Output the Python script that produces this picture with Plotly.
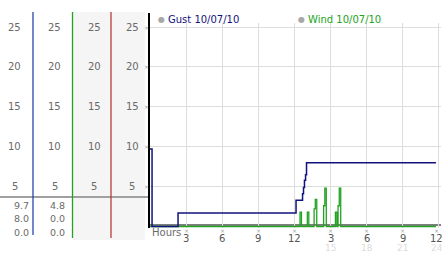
import plotly.graph_objects as go

W, H = 442, 253

# ---------------- data ----------------
gust_hours = [0, 0.17, 2.33, 12.13, 12.67, 12.75, 12.83, 12.92, 13.0, 23.75]
gust_vals = [9.7, 0, 1.7, 3.3, 4.1, 4.9, 5.8, 6.5, 8.0, 8.0]

wind_hours = [0, 12.46, 12.58, 13.07, 13.19, 13.63, 13.73, 13.85, 14.42, 14.52, 14.64,
              15.40, 15.52, 15.62, 15.72, 15.84, 23.75]
wind_vals = [0, 1.8, 0, 1.8, 0, 2.2, 3.4, 0, 2.6, 4.8, 0, 1.8, 0, 2.6, 4.8, 0, 0]

y_ticks = [5, 10, 15, 20, 25]
x_ticks = [3, 6, 9, 12, 15, 18, 21, 24]
x_labels_top = ["3", "6", "9", "12", "3", "6", "9", "12"]
x_labels_bottom = ["", "", "", "", "15", "18", "21", "24"]

gust_stats = ["9.7", "8.0", "0.0"]   # max, last, min
wind_stats = ["4.8", "0.0", "0.0"]

gust_name = "Gust 10/07/10"
wind_name = "Wind 10/07/10"

# ---------------- styles ----------------
NAVY = "#12127e"
GREEN = "#22a322"
BLUE_COL = "#2848a8"
RED_COL = "#b83a3a"
LABEL = "#6a6a6a"
FONT = "DejaVu Sans"


def px(x):
    return x / W


def py(y):
    return 1 - y / H


# main plot area in pixels
X0, X1 = 149, 441
Y0, Y1 = 23, 228
PPH = 12.04          # pixels per hour
ZERO_X = 150
PPU = 7.98           # pixels per unit
ZERO_Y = 226.5

x_range = [(X0 - ZERO_X) / PPH, (X1 - ZERO_X) / PPH]
y_range = [(ZERO_Y - Y1) / PPU, (ZERO_Y - Y0) / PPU]

fig = go.Figure()

fig.add_trace(go.Scatter(x=wind_hours, y=wind_vals, mode="lines",
                         line=dict(color=GREEN, width=1.3, shape="hv"),
                         hoverinfo="skip", showlegend=False))
fig.add_trace(go.Scatter(x=gust_hours, y=gust_vals, mode="lines",
                         line=dict(color=NAVY, width=1.5, shape="hv"),
                         hoverinfo="skip", showlegend=False))

shapes = []
# left panel grey backgrounds
shapes.append(dict(type="rect", xref="paper", yref="paper", x0=px(73), x1=px(145), y0=py(240), y1=py(12),
                   fillcolor="#f5f5f5", line=dict(width=0), layer="below"))
# grey horizontal separator
shapes.append(dict(type="line", xref="paper", yref="paper", x0=px(0), x1=px(149), y0=py(197), y1=py(197),
                   line=dict(color="#a0a0a0", width=2)))
# column lines
for xc, col, yb in [(33, BLUE_COL, 235), (72.5, GREEN, 238), (111, RED_COL, 238)]:
    shapes.append(dict(type="line", xref="paper", yref="paper", x0=px(xc), x1=px(xc), y0=py(12), y1=py(yb),
                       line=dict(color=col, width=1.3)))
# black axes
shapes.append(dict(type="line", xref="paper", yref="paper", x0=px(149), x1=px(149), y0=py(13), y1=py(228),
                   line=dict(color="black", width=2)))
shapes.append(dict(type="line", xref="paper", yref="paper", x0=px(149), x1=px(441), y0=py(225), y1=py(225),
                   line=dict(color="black", width=1.2), layer="below"))

annotations = []
for xc in [14.5, 54.5, 94, 132]:
    for v in y_ticks:
        annotations.append(dict(x=px(xc), y=v, xref="paper", yref="y", text=str(v), showarrow=False,
                                font=dict(family=FONT, size=10, color=LABEL), xanchor="center", yanchor="middle"))
# small tick crosses on the y axis
for v in y_ticks:
    annotations.append(dict(x=px(146), y=v, xref="paper", yref="y", text="×", showarrow=False,
                            font=dict(family=FONT, size=6, color="#a0a0a0"), xanchor="center", yanchor="middle"))
# x tick labels (two rows) and tick crosses
for i, (t, top, bot) in enumerate(zip(x_ticks, x_labels_top, x_labels_bottom)):
    shift = -2 if i == len(x_ticks) - 1 else 0
    annotations.append(dict(x=t, y=py(230), xref="x", yref="paper", text="×", showarrow=False, xshift=shift,
                            font=dict(family=FONT, size=6, color="#a0a0a0"), xanchor="center", yanchor="middle"))
    annotations.append(dict(x=t, y=py(238), xref="x", yref="paper", text=top, showarrow=False, xshift=shift,
                            font=dict(family=FONT, size=10, color="#555555"), xanchor="center", yanchor="middle"))
    if bot:
        annotations.append(dict(x=t, y=py(248.3), xref="x", yref="paper", text=bot, showarrow=False, xshift=shift,
                                font=dict(family=FONT, size=9, color="#dcdcdc"), xanchor="center",
                                yanchor="middle"))
for xc, stats in [(21, gust_stats), (57, wind_stats)]:
    for yy, s in zip([205, 218.5, 232], stats):
        annotations.append(dict(x=px(xc), y=py(yy), xref="paper", yref="paper", text=s, showarrow=False,
                                font=dict(family=FONT, size=9.5, color=LABEL), xanchor="center", yanchor="middle"))
annotations.append(dict(x=px(166), y=py(232), xref="paper", yref="paper", text="Hours", showarrow=False,
                        font=dict(family=FONT, size=10, color=LABEL), xanchor="center", yanchor="middle"))
# legend
for xd, name, col in [(161, gust_name, NAVY), (301.5, wind_name, GREEN)]:
    annotations.append(dict(x=px(xd), y=py(20), xref="paper", yref="paper", text="●", showarrow=False,
                            font=dict(family=FONT, size=8, color="#a8a8a8"), xanchor="center", yanchor="middle"))
    annotations.append(dict(x=px(xd + 4.5), y=py(20), xref="paper", yref="paper", text=name, showarrow=False,
                            font=dict(family=FONT, size=10, color=col), xanchor="left", yanchor="middle"))

fig.update_layout(
    width=W, height=H,
    margin=dict(l=0, r=0, t=0, b=0),
    paper_bgcolor="white", plot_bgcolor="white",
    font=dict(family=FONT, size=10, color="#555555"),
    showlegend=False,
    shapes=shapes,
    annotations=annotations,
    xaxis=dict(domain=[px(X0), px(X1)], range=x_range, tickvals=x_ticks, showticklabels=False,
               showgrid=True, gridcolor="#dddddd", gridwidth=1, zeroline=False, showline=False,
               ticks="", fixedrange=True),
    yaxis=dict(domain=[py(Y1), py(Y0)], range=y_range, tickvals=y_ticks, showticklabels=False,
               showgrid=True, gridcolor="#dddddd", gridwidth=1, zeroline=False, showline=False,
               ticks="", fixedrange=True),
)

fig.write_html("out.html")
